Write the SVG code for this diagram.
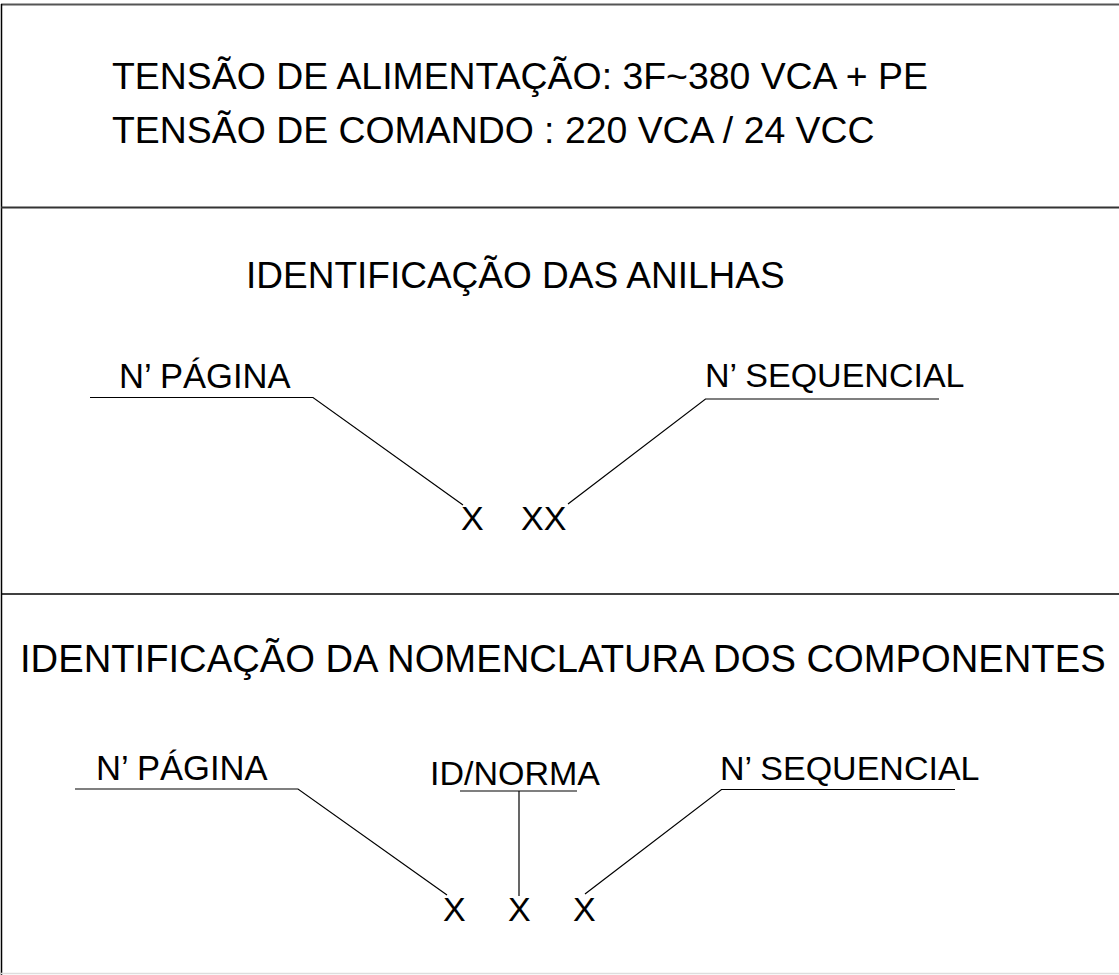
<svg xmlns="http://www.w3.org/2000/svg" width="1119" height="975" viewBox="0 0 1119 975">
<style>
  .t { font-family: "Liberation Sans", Arial, sans-serif; fill: #000; }
  .big { font-size: 37.4px; }
  .lbl { font-size: 34px; }
  .frame { stroke: #000; stroke-width: 1.5; fill: none; }
  .ln { stroke: #000; stroke-width: 1.2; fill: none; }
</style>
<rect width="1119" height="975" fill="#fff"/>
<g id="frame">
  <line x1="1" y1="4.5" x2="1119" y2="4.5" stroke="#555" stroke-width="2"/>
  <line x1="1.5" y1="4" x2="1.5" y2="975" class="frame"/>
  <line x1="1" y1="207.5" x2="1119" y2="207.5" stroke="#333" stroke-width="1.8"/>
  <line x1="1" y1="594" x2="1119" y2="594" class="frame"/>
  <line x1="1" y1="973.5" x2="1119" y2="973.5" stroke="#ddd" stroke-width="1.5"/>
</g>
<g id="header">
  <text class="t big" x="112" y="89">TENSÃO DE ALIMENTAÇÃO: 3F~380 VCA + PE</text>
  <text class="t big" x="112" y="143">TENSÃO DE COMANDO : 220 VCA / 24 VCC</text>
</g>
<g id="anilhas">
  <text class="t big" x="246" y="288" style="font-size:37px">IDENTIFICAÇÃO DAS ANILHAS</text>
  <g id="anilhas-pagina">
    <text class="t lbl" x="119" y="388" style="font-size:34.6px">N’ PÁGINA</text>
  </g>
  <g id="anilhas-sequencial">
    <text class="t lbl" x="705" y="387">N’ SEQUENCIAL</text>
  </g>
  <g id="anilhas-code">
    <text class="t lbl" x="461" y="530">X</text>
    <text class="t lbl" x="521" y="530">XX</text>
  </g>
</g>
<g id="componentes">
  <text class="t big" x="20" y="672" style="font-size:38.2px">IDENTIFICAÇÃO DA NOMENCLATURA DOS COMPONENTES</text>
  <g id="comp-pagina">
    <text class="t lbl" x="96" y="780" style="font-size:34.6px">N’ PÁGINA</text>
  </g>
  <g id="comp-norma">
    <text class="t lbl" x="430" y="785">ID/NORMA</text>
  </g>
  <g id="comp-sequencial">
    <text class="t lbl" x="720" y="780">N’ SEQUENCIAL</text>
  </g>
  <g id="comp-code">
    <text class="t lbl" x="443" y="921">X</text>
    <text class="t lbl" x="508" y="921">X</text>
    <text class="t lbl" x="573" y="921">X</text>
  </g>
</g>
<g id="connectors">
  <polyline class="ln" points="90,397.5 313,397.5 463,505"/>
  <polyline class="ln" points="939,399 705.5,399 568,504"/>
  <polyline class="ln" points="75,789 298,789 447,895"/>
  <line class="ln" x1="460" y1="791" x2="577" y2="791"/>
  <line class="ln" x1="519" y1="791" x2="519" y2="896"/>
  <polyline class="ln" points="955,789.5 721.5,789.5 585,894"/>
</g>
</svg>
